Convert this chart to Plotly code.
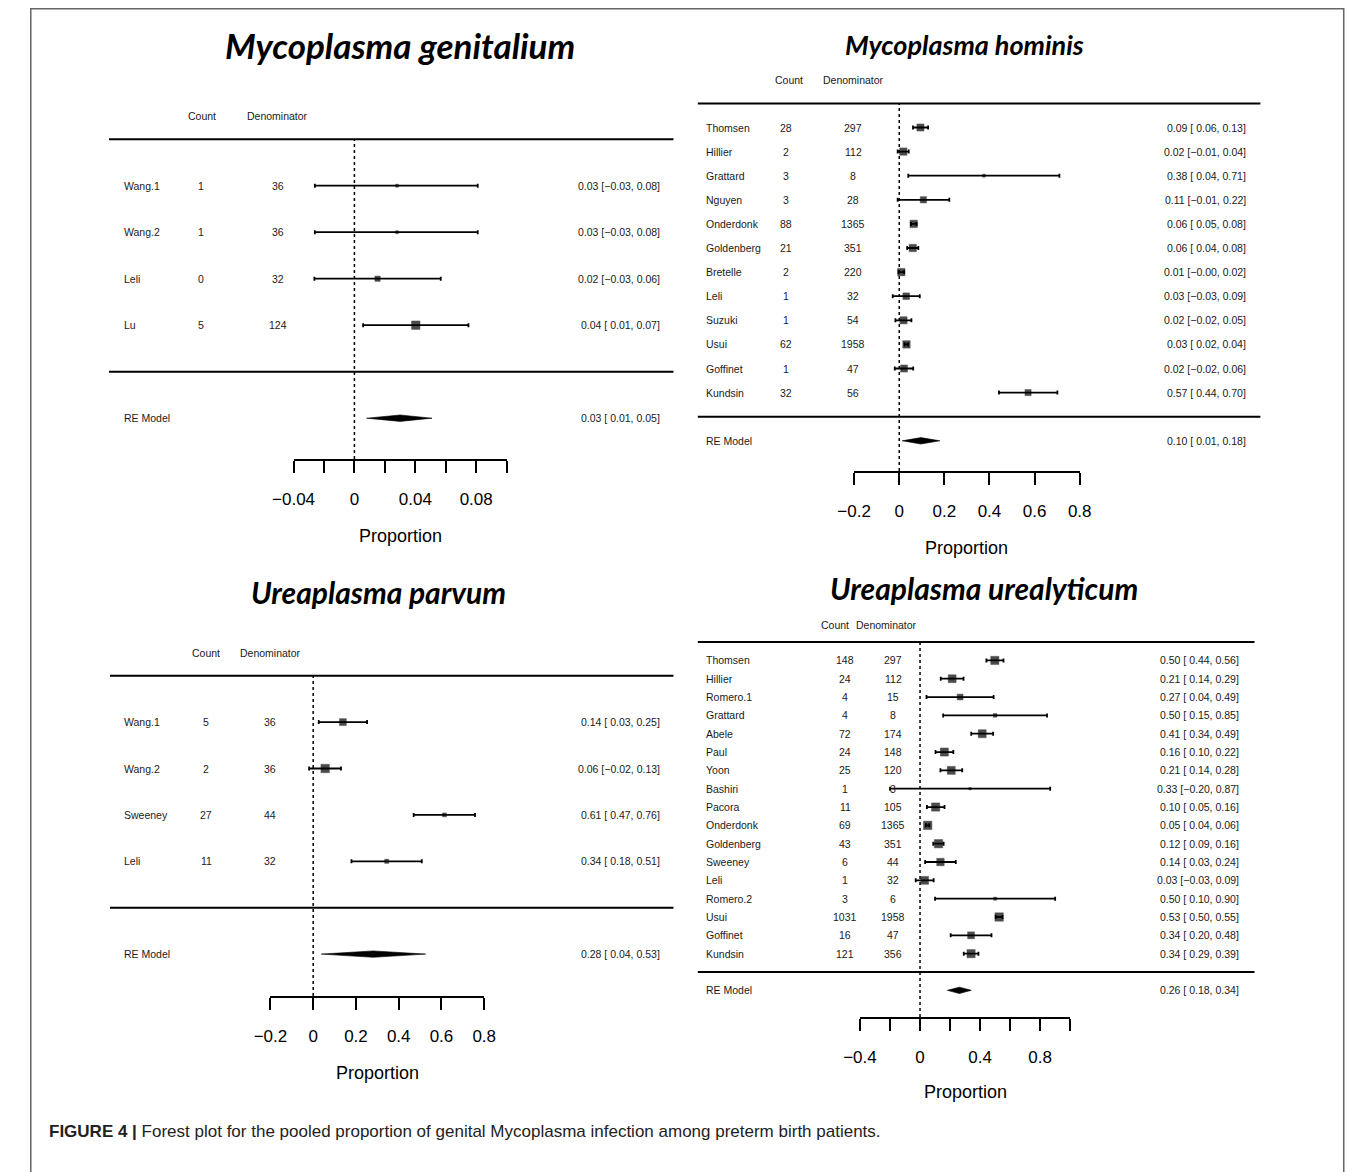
import plotly.graph_objects as go

W, H = 1357, 1172
OFF = 8  # the page body margin shifts the figure by 8 px; positions below are screen pixels
FONT = "Liberation Sans, Arial, Helvetica, sans-serif"
TITLE_FONT = "Lato, Open Sans, sans-serif"
INK = "#000000"
TXT = "#1a1a1a"

# ---------------- data ----------------
# Mycoplasma genitalium
mg_study = ["Wang.1", "Wang.2", "Leli", "Lu"]
mg_count = [1, 1, 0, 5]
mg_denom = [36, 36, 32, 124]
mg_est = [0.028, 0.028, 0.0152, 0.0403]
mg_lb = [-0.026, -0.026, -0.0263, 0.0057]
mg_ub = [0.081, 0.081, 0.0567, 0.0749]
mg_weight = [16.2, 16.2, 27.0, 40.6]
mg_re = [0.030, 0.008, 0.051]
mg_ticks = [-0.04, -0.02, 0, 0.02, 0.04, 0.06, 0.08, 0.10]
mg_ticklabels = ["\u22120.04", "", "0", "", "0.04", "", "0.08", ""]

# Mycoplasma hominis
mh_study = ["Thomsen", "Hillier", "Grattard", "Nguyen", "Onderdonk", "Goldenberg",
            "Bretelle", "Leli", "Suzuki", "Usui", "Goffinet", "Kundsin"]
mh_count = [28, 2, 3, 3, 88, 21, 2, 1, 1, 62, 1, 32]
mh_denom = [297, 112, 8, 28, 1365, 351, 220, 32, 54, 1958, 47, 56]
mh_est = [0.094, 0.018, 0.3752, 0.107, 0.064, 0.060, 0.009, 0.031, 0.019, 0.032, 0.021, 0.571]
mh_lb = [0.061, -0.007, 0.040, -0.007, 0.052, 0.0352, -0.003, -0.029, -0.017, 0.024, -0.020, 0.442]
mh_ub = [0.128, 0.042, 0.710, 0.222, 0.077, 0.0845, 0.022, 0.091, 0.054, 0.039, 0.062, 0.701]
mh_weight = [8.9, 9.2, 2.4, 7.6, 9.4, 9.3, 9.4, 8.2, 9.0, 9.4, 8.8, 7.4]
mh_re = [0.096, 0.013, 0.180]
mh_ticks = [-0.2, 0, 0.2, 0.4, 0.6, 0.8]
mh_ticklabels = ["\u22120.2", "0", "0.2", "0.4", "0.6", "0.8"]

# Ureaplasma parvum
up_study = ["Wang.1", "Wang.2", "Sweeney", "Leli"]
up_count = [5, 2, 27, 11]
up_denom = [36, 36, 44, 32]
up_est = [0.139, 0.056, 0.614, 0.344]
up_lb = [0.026, -0.019, 0.470, 0.179]
up_ub = [0.252, 0.130, 0.757, 0.508]
up_weight = [27.5, 31.0, 20.5, 21.0]
up_re = [0.281, 0.038, 0.526]
up_ticks = [-0.2, 0, 0.2, 0.4, 0.6, 0.8]
up_ticklabels = ["\u22120.2", "0", "0.2", "0.4", "0.6", "0.8"]

# Ureaplasma urealyticum
uu_study = ["Thomsen", "Hillier", "Romero.1", "Grattard", "Abele", "Paul", "Yoon", "Bashiri",
            "Pacora", "Onderdonk", "Goldenberg", "Sweeney", "Leli", "Romero.2", "Usui",
            "Goffinet", "Kundsin"]
uu_count = [148, 24, 4, 4, 72, 24, 25, 1, 11, 69, 43, 6, 1, 3, 1031, 16, 121]
uu_denom = [297, 112, 15, 8, 174, 148, 120, 3, 105, 1365, 351, 44, 32, 6, 1958, 47, 356]
uu_est = [0.498, 0.214, 0.267, 0.500, 0.414, 0.162, 0.208, 0.333, 0.104, 0.051, 0.123,
          0.136, 0.031, 0.500, 0.527, 0.340, 0.340]
uu_lb = [0.442, 0.138, 0.043, 0.154, 0.341, 0.103, 0.136, -0.200, 0.046, 0.039, 0.088,
         0.034, -0.029, 0.100, 0.504, 0.204, 0.291]
uu_ub = [0.556, 0.290, 0.490, 0.846, 0.487, 0.222, 0.281, 0.867, 0.163, 0.062, 0.157,
         0.238, 0.091, 0.900, 0.549, 0.476, 0.389]
uu_weight = [6.6, 6.3, 4.4, 2.4, 6.4, 6.5, 6.4, 1.2, 6.6, 6.8, 6.7, 5.9, 6.3, 1.8, 6.8, 5.4, 6.6]
uu_re = [0.262, 0.182, 0.342]
uu_ticks = [-0.4, -0.2, 0, 0.2, 0.4, 0.6, 0.8, 1.0]
uu_ticklabels = ["\u22120.4", "", "0", "", "0.4", "", "0.8", ""]

# ---------------- layout (pixel geometry of each panel) ----------------
panels = [
    dict(title="Mycoplasma genitalium", title_px=(388, 45), title_size=35,
         study=mg_study, count=mg_count, denom=mg_denom, est=mg_est, lb=mg_lb, ub=mg_ub,
         weight=mg_weight, re=mg_re, ticks=mg_ticks, ticklabels=mg_ticklabels,
         axis_px=(278.3, 496.9), axis_y=459, row0=371.7, step=46.5, header_row=5.5,
         line_px=(89, 668), name_x=102.6, count_x=183.5, denom_x=262.5, ci_x=656.4,
         count_h=(184, "center"), denom_h=(262, "center"), prop_y=536, size_range=(3, 8.5)),
    dict(title="Mycoplasma hominis", title_px=(967, 45), title_size=27,
         study=mh_study, count=mh_count, denom=mh_denom, est=mh_est, lb=mh_lb, ub=mh_ub,
         weight=mh_weight, re=mh_re, ticks=mh_ticks, ticklabels=mh_ticklabels,
         axis_px=(853.3, 1084.7), axis_y=471, row0=416.7, step=24.1, header_row=13.97,
         line_px=(693, 1270), name_x=699.4, count_x=783.3, denom_x=852.5, ci_x=1257.3,
         count_h=(787, "center"), denom_h=(853, "center"), prop_y=548, size_range=(3, 7.5)),
    dict(title="Ureaplasma parvum", title_px=(365, 592), title_size=30,
         study=up_study, count=up_count, denom=up_denom, est=up_est, lb=up_lb, ub=up_ub,
         weight=up_weight, re=up_re, ticks=up_ticks, ticklabels=up_ticklabels,
         axis_px=(254.6, 473.9), axis_y=996, row0=907.7, step=46.4, header_row=5.5,
         line_px=(90, 668), name_x=102.6, count_x=188.7, denom_x=254.6, ci_x=656.4,
         count_h=(189, "center"), denom_h=(255, "center"), prop_y=1072.7, size_range=(4, 8.5)),
    dict(title="Ureaplasma urealyticum", title_px=(987, 588), title_size=30,
         study=uu_study, count=uu_count, denom=uu_denom, est=uu_est, lb=uu_lb, ub=uu_ub,
         weight=uu_weight, re=uu_re, ticks=uu_ticks, ticklabels=uu_ticklabels,
         axis_px=(859.3, 1074.9), axis_y=1017, row0=972.0, step=18.33, header_row=18.93,
         line_px=(693, 1264), name_x=699.4, count_x=844.3, denom_x=893.2, ci_x=1250.6,
         count_h=(850, "right"), denom_h=(853, "left"), prop_y=1092, size_range=(2.5, 8.5)),
]


def pxx(px):
    return (px - OFF) / W


def pxy(py):
    return 1 - (py - OFF) / H


def fmt_ci(e, l, u):
    return f"{e:.2f} [{l:5.2f}, {u:.2f}]".replace("-", "\u2212")


fig = go.Figure()
annotations = []
shapes = []
layout_axes = {}
ROW_FS = 10.5

for i, p in enumerate(panels, start=1):
    s = "" if i == 1 else str(i)
    xa, ya = "x" + s, "y" + s
    k = len(p["study"])
    rows = list(range(k, 0, -1))
    lo, hi = p["ticks"][0], p["ticks"][-1]
    a, b = p["axis_px"]
    top_px = p["row0"] - (p["header_row"] + 1.0) * p["step"]
    r_bot = (p["row0"] - p["axis_y"]) / p["step"]
    r_top = (p["row0"] - top_px) / p["step"]

    layout_axes["xaxis" + s] = dict(
        domain=[pxx(a), pxx(b)], range=[lo, hi], anchor=ya,
        showline=True, linecolor=INK, linewidth=2,
        ticks="outside", ticklen=12, tickwidth=2, tickcolor=INK,
        tickmode="array", tickvals=p["ticks"], ticktext=p["ticklabels"],
        tickfont=dict(size=17, family=FONT, color=INK), ticklabelstandoff=12,
        showgrid=False, zeroline=False, fixedrange=True)
    layout_axes["yaxis" + s] = dict(
        domain=[pxy(p["axis_y"]), pxy(top_px)], range=[r_bot, r_top],
        visible=False, fixedrange=True)

    # marker sizes from study weights
    wmin, wmax = min(p["weight"]), max(p["weight"])
    smin, smax = p["size_range"]
    sizes = [smin + (w - wmin) / (wmax - wmin) * (smax - smin) for w in p["weight"]]

    fig.add_trace(go.Scatter(
        x=p["est"], y=rows, xaxis=xa, yaxis=ya, mode="markers",
        marker=dict(symbol="square", size=sizes, color=INK, line=dict(width=0.4, color=INK)),
        error_x=dict(type="data", symmetric=False,
                     array=[u - e for e, u in zip(p["est"], p["ub"])],
                     arrayminus=[e - l for e, l in zip(p["est"], p["lb"])],
                     width=2, thickness=1.8, color=INK),
        cliponaxis=False, hoverinfo="skip", showlegend=False))

    # RE diamond
    e, l, u = p["re"]
    h = 3.2 / p["step"]
    fig.add_trace(go.Scatter(
        x=[l, e, u, e, l], y=[-1, -1 + h, -1, -1 - h, -1], xaxis=xa, yaxis=ya,
        mode="lines", fill="toself", fillcolor=INK, line=dict(color=INK, width=0.6),
        hoverinfo="skip", showlegend=False))

    # top and bottom rules
    for yv in (k + 1, 0):
        shapes.append(dict(type="line", xref="paper", yref=ya,
                           x0=pxx(p["line_px"][0]), x1=pxx(p["line_px"][1]), y0=yv, y1=yv,
                           line=dict(color=INK, width=2)))
    # dotted reference line at 0
    shapes.append(dict(type="line", xref=xa, yref=ya, x0=0, x1=0, y0=r_bot, y1=k + 1,
                       line=dict(color=INK, width=1.5, dash="dot")))

    def ann(text, xpx, yv, anchor, size=ROW_FS, yref=ya):
        annotations.append(dict(text=text, x=pxx(xpx), y=yv, xref="paper", yref=yref,
                                xanchor=anchor, yanchor="middle", showarrow=False,
                                font=dict(family=FONT, size=size, color=TXT)))

    for r, name, c, d, ee, ll, uu in zip(rows, p["study"], p["count"], p["denom"],
                                          p["est"], p["lb"], p["ub"]):
        ann(name, p["name_x"], r, "left")
        ann(str(c), p["count_x"], r, "center")
        ann(str(d), p["denom_x"], r, "center")
        ann(fmt_ci(ee, ll, uu), p["ci_x"], r, "right")
    ann("RE Model", p["name_x"], -1, "left")
    ann(fmt_ci(e, l, u), p["ci_x"], -1, "right")
    ann("Count", p["count_h"][0], p["header_row"], p["count_h"][1])
    ann("Denominator", p["denom_h"][0], p["header_row"], p["denom_h"][1])

    # axis title
    annotations.append(dict(text="Proportion", x=pxx((a + b) / 2), y=pxy(p["prop_y"]),
                            xref="paper", yref="paper", xanchor="center", yanchor="middle",
                            showarrow=False, font=dict(family=FONT, size=18, color=INK)))
    # panel title
    tx, ty = p["title_px"]
    annotations.append(dict(text="<b><i>" + p["title"] + "</i></b>", x=pxx(tx), y=pxy(ty),
                            xref="paper", yref="paper", xanchor="center", yanchor="middle",
                            showarrow=False,
                            font=dict(family=TITLE_FONT, size=p["title_size"], color="#000000")))

# caption
annotations.append(dict(
    text="<b>FIGURE 4 |</b> Forest plot for the pooled proportion of genital Mycoplasma "
         "infection among preterm birth patients.",
    x=pxx(25), y=pxy(1131), xref="paper", yref="paper", xanchor="left", yanchor="middle",
    showarrow=False, font=dict(family=FONT, size=17, color="#222222")))

# frame
shapes.append(dict(type="rect", xref="paper", yref="paper",
                   x0=pxx(8.8), x1=pxx(1355.5), y0=-0.02, y1=pxy(8.8),
                   line=dict(color="#666666", width=1.5), fillcolor="rgba(0,0,0,0)"))

fig.update_layout(width=W, height=H, margin=dict(l=0, r=0, t=0, b=0),
                  paper_bgcolor="white", plot_bgcolor="white", showlegend=False,
                  font=dict(family=FONT, color=INK),
                  annotations=annotations, shapes=shapes, **layout_axes)

fig.write_html("out.html")
